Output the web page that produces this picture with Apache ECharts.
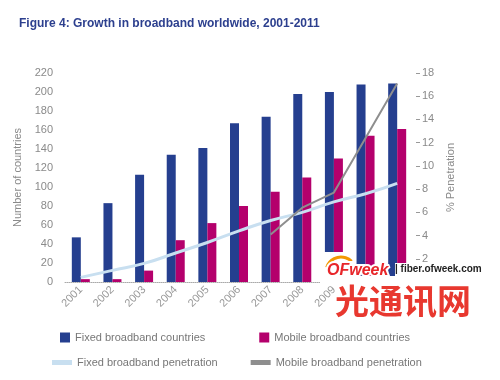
<!DOCTYPE html>
<html>
<head>
<meta charset="utf-8">
<script src="https://cdn.jsdelivr.net/npm/echarts@6/dist/echarts.min.js"></script>
<style>html,body{margin:0;padding:0;background:#fff;}#c{width:500px;height:380px;}</style>
</head>
<body>
<div id="c"></div>
<script>
var years = ['2001','2002','2003','2004','2005','2006','2007','2008','2009','2010','2011'];
var fixedCountries = [47, 83, 113, 134, 141, 167, 174, 198, 200, 208, 209];
var mobileCountries = [3, 3, 12, 44, 62, 80, 95, 110, 130, 154, 161];
var fixedPenetration = [0.4, 1.0, 1.6, 2.5, 3.4, 4.4, 5.3, 6.0, 6.9, 7.6, 8.5];
var mobilePenetration = [null, null, null, null, null, null, 4.1, 6.4, 7.7, 12.4, 17.1];

var chart = echarts.init(document.getElementById('c'), null, {renderer: 'canvas'});
var gray = '#8a8a8a';
chart.setOption({
  animation: false,
  textStyle: {fontFamily: 'Liberation Sans, Arial, sans-serif'},
  title: {
    text: 'Figure 4: Growth in broadband worldwide, 2001-2011',
    left: 14, top: 13,
    textStyle: {fontSize: 12, fontWeight: 'bold', color: '#2c3f8e', fontFamily: 'Liberation Sans, Arial, sans-serif'}
  },
  grid: {left: 65, right: 87, top: 73, bottom: 98, containLabel: false},
  legend: [
    {
      data: [{name: 'Fixed broadband countries', icon: 'rect'}, {name: 'Mobile broadband countries', icon: 'rect'}],
      left: 60, top: 332, padding: 0, itemWidth: 10, itemHeight: 10, itemGap: 54,
      textStyle: {color: '#777', fontSize: 11}, selectedMode: false
    },
    {
      data: [{name: 'Fixed broadband penetration', icon: 'rect'}, {name: 'Mobile broadband penetration', icon: 'rect'}],
      left: 52, top: 357, padding: 0, itemWidth: 20, itemHeight: 5, itemGap: 33,
      textStyle: {color: '#777', fontSize: 11}, selectedMode: false
    }
  ],
  xAxis: {
    type: 'category', data: years,
    axisLine: {show: true, lineStyle: {color: '#aaa', type: 'dotted', width: 1}},
    axisTick: {show: false},
    axisLabel: {rotate: 45, color: '#999', fontSize: 11, margin: 6, interval: 0}
  },
  yAxis: [
    {
      type: 'value', min: 0, max: 220, interval: 20,
      name: 'Number of countries', nameLocation: 'middle', nameGap: 42, nameRotate: 90,
      nameTextStyle: {color: gray, fontSize: 11},
      axisLine: {show: false}, axisTick: {show: false}, splitLine: {show: false},
      axisLabel: {color: gray, fontSize: 11, margin: 12}
    },
    {
      type: 'value', min: 0, max: 18, interval: 2, position: 'right', offset: 3,
      name: '% Penetration', nameLocation: 'middle', nameGap: 28, nameRotate: 90,
      nameTextStyle: {color: gray, fontSize: 11},
      axisLine: {show: false}, axisTick: {show: true, length: 4, lineStyle: {color: '#999'}},
      splitLine: {show: false},
      axisLabel: {color: gray, fontSize: 11, margin: 6}
    }
  ],
  series: [
    {name: 'Fixed broadband countries', type: 'bar', data: fixedCountries, barWidth: 9, barGap: '0%',
      itemStyle: {color: '#253f8f'}, z: 2},
    {name: 'Mobile broadband countries', type: 'bar', data: mobileCountries, barWidth: 9, barGap: '0%',
      itemStyle: {color: '#b4006c'}, z: 2},
    {name: 'Fixed broadband penetration', type: 'line', yAxisIndex: 1, data: fixedPenetration, smooth: true,
      showSymbol: false, symbol: 'none', color: '#c8dff0', lineStyle: {color: '#c8dff0', width: 3}, z: 4},
    {name: 'Mobile broadband penetration', type: 'line', yAxisIndex: 1, data: mobilePenetration,
      showSymbol: false, symbol: 'none', color: '#8e8e8e', lineStyle: {color: '#8e8e8e', width: 2}, z: 5}
  ],
  graphic: [
    {type: 'rect', z: 99, shape: {x: 320, y: 252, width: 32, height: 32, r: 4}, style: {fill: '#fff'}},
    {type: 'rect', z: 99, shape: {x: 320, y: 276, width: 75, height: 8}, style: {fill: '#fff'}},
    {type: 'rect', z: 99, shape: {x: 395, y: 263, width: 87, height: 21}, style: {fill: '#fff'}},
    {type: 'arc', z: 100, shape: {cx: 341, cy: 272, r: 15, startAngle: Math.PI * 1.1, endAngle: Math.PI * 1.75},
      style: {stroke: '#f39800', lineWidth: 3, fill: null}},
    {type: 'text', z: 100, left: 325, top: 261,
      style: {text: 'OFweek', fill: '#e8262a', font: 'italic bold 16px Liberation Sans, Arial, sans-serif',
        stroke: '#fff', lineWidth: 4}},
    {type: 'text', z: 100, left: 395, top: 264,
      style: {text: '| fiber.ofweek.com', fill: '#222', font: 'bold 10px Liberation Sans, Arial, sans-serif'}},
    {type: 'text', z: 100, left: 331, top: 280,
      style: {text: '光通讯网', fill: '#e8382f', font: 'bold 34px "Noto Sans CJK SC", sans-serif',
        stroke: '#fff', lineWidth: 8}}
  ]
});
</script>
</body>
</html>
